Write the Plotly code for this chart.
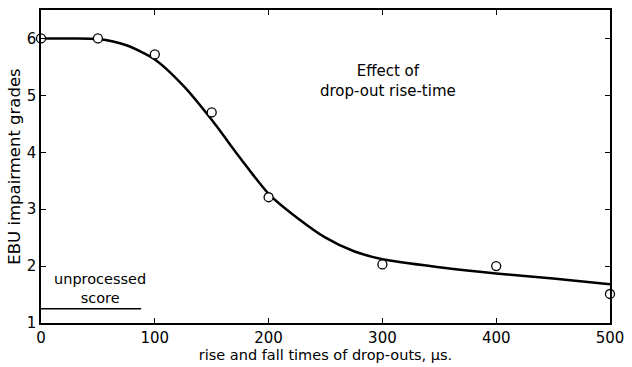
import plotly.graph_objects as go

# measured points
pt_x = [0, 50, 100, 150, 200, 300, 400, 500]
pt_y = [6.0, 6.0, 5.72, 4.70, 3.21, 2.03, 2.0, 1.51]

# fitted curve
curve_x = [0, 25, 50, 75, 100, 125, 150, 175, 200, 225, 250, 275, 300, 350, 400, 450, 500]
curve_y = [6.0, 6.0, 5.99, 5.88, 5.63, 5.17, 4.57, 3.9, 3.27, 2.85, 2.5, 2.26, 2.12, 1.98, 1.87, 1.78, 1.68]

# unprocessed score reference line
unproc_x = [0, 88]
unproc_y = [1.25, 1.25]

x_ticks = [0, 100, 200, 300, 400, 500]
y_ticks = [1, 2, 3, 4, 5, 6]

FONT = "DejaVu Sans"

fig = go.Figure()
fig.add_trace(go.Scatter(x=curve_x, y=curve_y, mode="lines", line=dict(color="black", width=2.5, shape="spline", smoothing=0.7), showlegend=False, hoverinfo="skip"))
fig.add_trace(go.Scatter(x=unproc_x, y=unproc_y, mode="lines", line=dict(color="black", width=1.5), showlegend=False, hoverinfo="skip"))
fig.add_trace(go.Scatter(x=pt_x, y=pt_y, mode="markers", marker=dict(symbol="circle", size=9, color="white", line=dict(color="black", width=1.3)), showlegend=False, cliponaxis=False))

fig.add_annotation(x=52, y=1.6, xref="x", yref="y", text="unprocessed<br>score", showarrow=False, font=dict(family=FONT, size=14.5, color="black"))
fig.add_annotation(x=305, y=5.26, xref="x", yref="y", text="Effect of<br>drop-out rise-time", showarrow=False, font=dict(family=FONT, size=15, color="black"))

axis_common = dict(showline=True, linecolor="black", linewidth=1.5, mirror="ticks", ticks="inside", ticklen=5, tickcolor="black", tickwidth=1.2, showgrid=False, zeroline=False, tickfont=dict(family=FONT, size=15, color="black"))

fig.update_xaxes(range=[0, 500], tickvals=x_ticks, title=dict(text="rise and fall times of drop-outs, μs.", font=dict(family=FONT, size=14.5, color="black"), standoff=2), **axis_common)
fig.update_yaxes(range=[1, 6.5], tickvals=y_ticks, title=dict(text="EBU impairment grades", font=dict(family=FONT, size=16.5, color="black"), standoff=2), **axis_common)

fig.update_layout(width=632, height=367, margin=dict(l=41, r=17, t=8, b=43), plot_bgcolor="white", paper_bgcolor="white", font=dict(family=FONT, color="black"))

fig.write_html("out.html")
